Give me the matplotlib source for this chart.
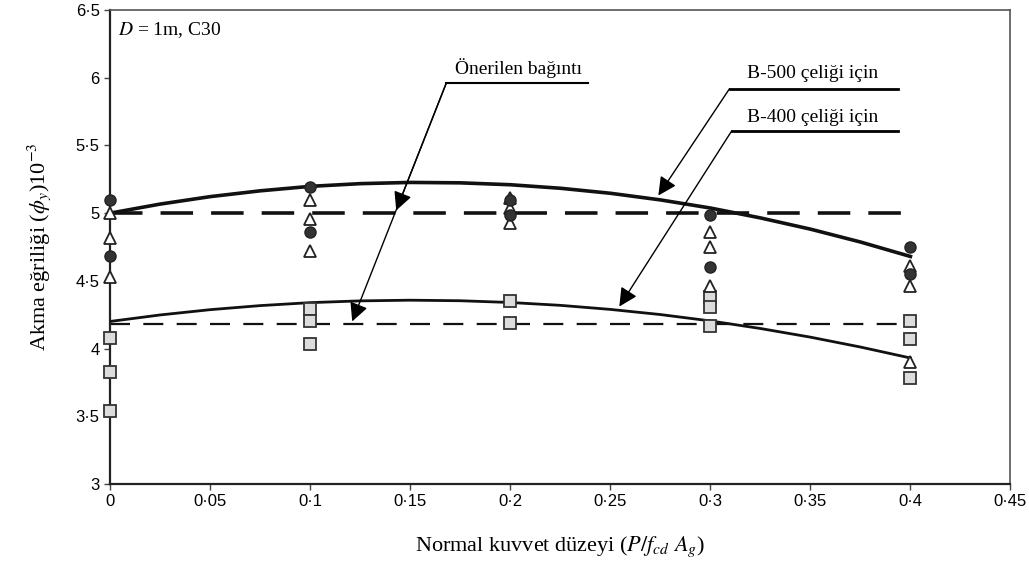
import matplotlib
matplotlib.use('Agg')
import matplotlib.pyplot as plt
import numpy as np

plt.rcParams['mathtext.fontset'] = 'stix'

# test results (markers)
circle_x = [0, 0, 0.1, 0.1, 0.2, 0.2, 0.3, 0.3, 0.4, 0.4]
circle_y = [5.10, 4.68, 5.19, 4.86, 5.10, 4.99, 4.99, 4.60, 4.75, 4.55]

tri_x = [0, 0, 0, 0.1, 0.1, 0.1, 0.2, 0.2, 0.2, 0.3, 0.3, 0.3, 0.4, 0.4, 0.4]
tri_y = [5.00, 4.82, 4.53, 5.10, 4.96, 4.72, 5.11, 5.04, 4.93, 4.86, 4.75, 4.46, 4.61, 4.46, 3.90]

sq_x = [0, 0, 0, 0.1, 0.1, 0.1, 0.2, 0.2, 0.3, 0.3, 0.3, 0.4, 0.4, 0.4]
sq_y = [4.08, 3.83, 3.54, 4.29, 4.20, 4.03, 4.35, 4.19, 4.38, 4.31, 4.17, 4.20, 4.07, 3.78]

# solid curves (B-500 / B-400)
curve_x = [0, 0.025, 0.05, 0.075, 0.1, 0.125, 0.15, 0.175, 0.2,
           0.225, 0.25, 0.275, 0.3, 0.325, 0.35, 0.375, 0.4]
b500_y = [5.000, 5.067, 5.122, 5.165, 5.198, 5.218, 5.227, 5.224, 5.210,
          5.184, 5.147, 5.098, 5.038, 4.965, 4.882, 4.787, 4.680]
b400_y = [4.200, 4.248, 4.287, 4.317, 4.339, 4.352, 4.357, 4.353, 4.340,
          4.319, 4.289, 4.251, 4.204, 4.148, 4.084, 4.011, 3.930]

# proposed relation (dashed lines)
prop_x = [0, 0.4]
prop_b500 = [5.0, 5.0]
prop_b400 = [4.18, 4.18]

xticks = [0, 0.05, 0.1, 0.15, 0.2, 0.25, 0.3, 0.35, 0.4, 0.45]
xtick_labels = ['0', '0·05', '0·1', '0·15', '0·2', '0·25', '0·3', '0·35', '0·4', '0·45']
yticks = [3, 3.5, 4, 4.5, 5, 5.5, 6, 6.5]
ytick_labels = ['3', '3·5', '4', '4·5', '5', '5·5', '6', '6·5']

fig = plt.figure(figsize=(10.29, 5.62), dpi=100)
ax = fig.add_axes([0.107, 0.139, 0.875, 0.843])

# dashed lines
ax.plot(prop_x, prop_b500, color='#111111', lw=2.6, dashes=(9, 5), zorder=2)
ax.plot(prop_x, prop_b400, color='#111111', lw=1.6, dashes=(9, 6), zorder=2)

# solid curves
ax.plot(curve_x, b500_y, color='#111111', lw=2.6, zorder=3)
ax.plot(curve_x, b400_y, color='#111111', lw=2.0, zorder=3)

# markers
ax.plot(sq_x, sq_y, ls='none', marker='s', ms=9, mfc='#dcdcdc', mec='#333333', mew=1.3,
        zorder=4, clip_on=False)
ax.plot(tri_x, tri_y, ls='none', marker='^', ms=9, mfc='white', mec='#222222', mew=1.3,
        zorder=5, clip_on=False)
ax.plot(circle_x, circle_y, ls='none', marker='o', ms=8, mfc='#333333', mec='#222222', mew=1,
        zorder=5, clip_on=False)

serif = 'Liberation Serif'
arrow = dict(arrowstyle='-|>', mutation_scale=28, lw=1.0, color='black', shrinkA=0, shrinkB=0)

# Önerilen bağıntı
ax.text(0.204, 6.07, 'Önerilen bağıntı', family=serif, fontsize=14, ha='center', va='center')
ax.plot([0.168, 0.239], [5.96, 5.96], color='black', lw=1.5)
ax.annotate('', xy=(0.143, 5.02), xytext=(0.168, 5.96), arrowprops=arrow)
ax.annotate('', xy=(0.121, 4.20), xytext=(0.168, 5.96), arrowprops=arrow)

# B-500
ax.text(0.351, 6.03, 'B-500 çeliği için', family=serif, fontsize=14, ha='center', va='center')
ax.plot([0.3096, 0.394], [5.92, 5.92], color='black', lw=2)
ax.annotate('', xy=(0.274, 5.13), xytext=(0.3096, 5.92), arrowprops=arrow)

# B-400
ax.text(0.351, 5.71, 'B-400 çeliği için', family=serif, fontsize=14, ha='center', va='center')
ax.plot([0.3106, 0.394], [5.606, 5.606], color='black', lw=2)
ax.annotate('', xy=(0.2545, 4.31), xytext=(0.3106, 5.606), arrowprops=arrow)

ax.text(0.004, 6.35, '$D$ = 1m, C30', family=serif, fontsize=14, ha='left', va='center')

ax.set_xlim(0, 0.45)
ax.set_ylim(3, 6.5)
ax.set_xticks(xticks)
ax.set_xticklabels(xtick_labels, family='Liberation Sans', fontsize=12)
ax.set_yticks(yticks)
ax.set_yticklabels(ytick_labels, family='Liberation Sans', fontsize=12)
ax.tick_params(direction='out', length=4, width=1, color='#444444')

for s in ['left', 'bottom']:
    ax.spines[s].set_linewidth(1.6)
    ax.spines[s].set_color('#222222')
for s in ['top', 'right']:
    ax.spines[s].set_linewidth(1.2)
    ax.spines[s].set_color('#555555')

ax.set_xlabel('Normal kuvvet düzeyi ($P/f_{cd}$ $A_g$)', family=serif, fontsize=16, labelpad=18)
ax.set_ylabel('Akma eğriliği ($\\phi_y$)10$^{-3}$', family=serif, fontsize=16, labelpad=16)

fig.savefig('out.png', dpi=100)
